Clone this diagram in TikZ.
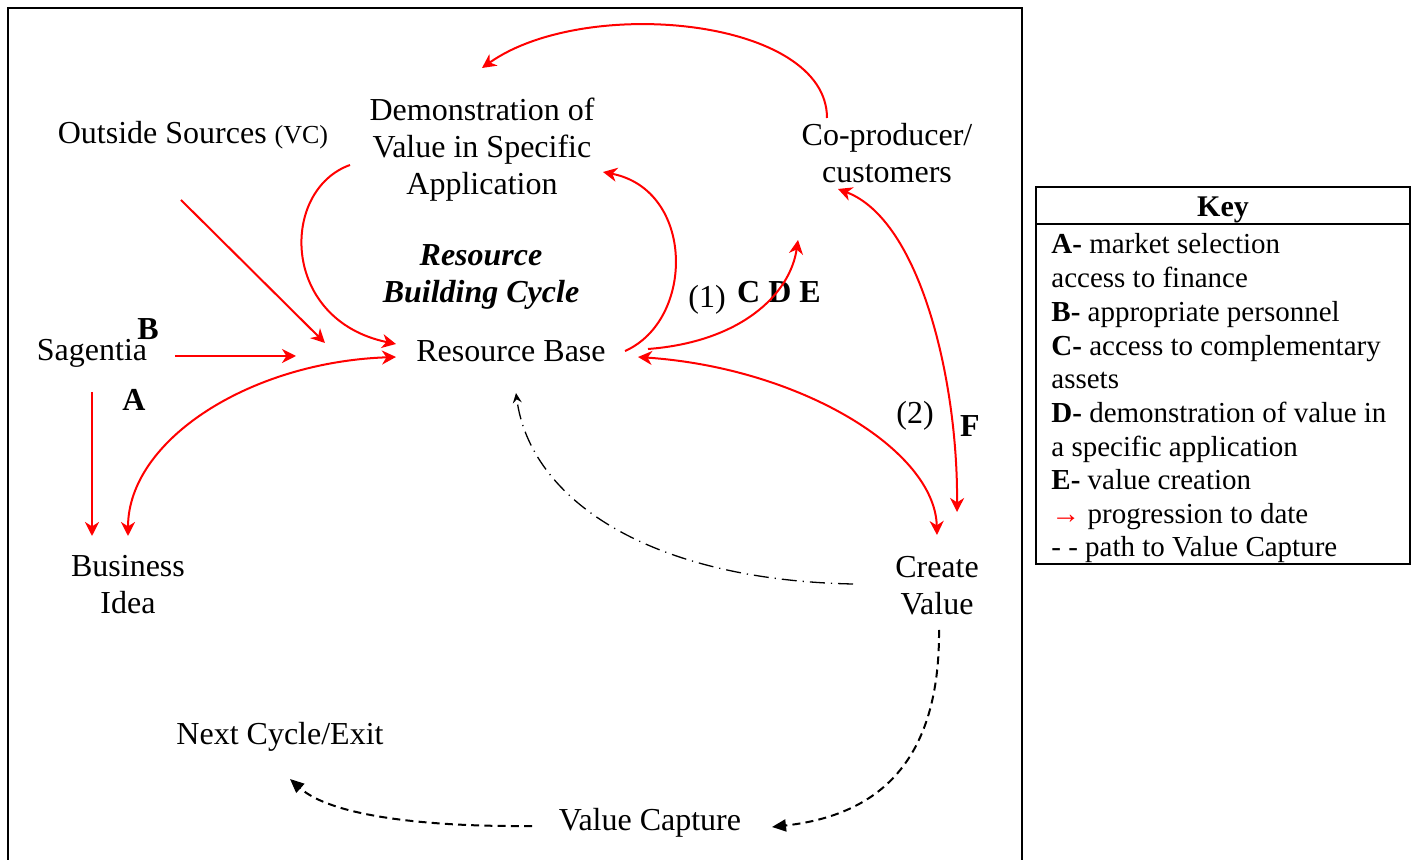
\documentclass[tikz,border=0pt]{standalone}
\usepackage{fontspec}
\setmainfont{Liberation Serif}
\usetikzlibrary{arrows.meta}
\begin{document}
\begin{tikzpicture}[x=0.5pt,y=-0.5pt,
  lbl/.style={font=\fontsize{16}{18.5}\selectfont, align=center, inner sep=0pt},
  bl/.style={font=\fontsize{16}{18.5}\selectfont\bfseries, inner sep=0pt},
  keyline/.style={font=\fontsize{14.5}{16.85}\selectfont, anchor=base west, inner sep=0pt},
  redarr/.style={draw=red, line width=1pt, -{Stealth[length=7pt,width=7pt,inset=2.2pt]}},
  redboth/.style={draw=red, line width=1pt, {Stealth[length=7pt,width=7pt,inset=2.2pt]}-{Stealth[length=7pt,width=7pt,inset=2.2pt]}},
  blkdash/.style={draw=black, line width=1pt, dash pattern=on 4pt off 2.6pt, -{Triangle[length=7pt,width=6pt]}},
  blkdashdot/.style={draw=black, line width=0.65pt, dash pattern=on 7.5pt off 3pt on 0.6pt off 3pt, -{Stealth[length=5pt,width=4.5pt,inset=1.8pt]}}
]
\useasboundingbox (0,0) rectangle (1414,860);
% frames
\draw[line width=1pt] (8,862) -- (8,8) -- (1022,8) -- (1022,862);
\draw[line width=1pt] (1036,187) rectangle (1410,564);
\draw[line width=1pt] (1036,224) -- (1410,224);

% nodes
\node[lbl] (outside) at (193,135) {Outside Sources {\fontsize{13}{15}\selectfont(VC)}};
\node[lbl] (demo) at (482,150) {Demonstration of\\Value in Specific\\Application};
\node[lbl] (coprod) at (887,153) {Co-producer/\\customers};
\node[lbl, font=\fontsize{16}{18.5}\selectfont\bfseries\itshape] (cycle) at (481,277) {Resource\\Building Cycle};
\node[lbl] (sag) at (92,353) {Sagentia};
\node[bl] (B) at (148,329) {B};
\node[bl] (A) at (134,400) {A};
\node[lbl] (rb) at (511,351) {Resource Base};
\node[lbl] (one) at (707,300) {(1)};
\node[bl] (cde) at (779,292) {C D E};
\node[lbl] (two) at (915,416) {(2)};
\node[bl] (F) at (970,426) {F};
\node[lbl] (bi) at (128,585) {Business\\Idea};
\node[lbl] (cv) at (937,586) {Create\\Value};
\node[lbl] (next) at (280,737) {Next Cycle/Exit};
\node[lbl] (vcap) at (650,823) {Value Capture};

% key
\node[font=\fontsize{15}{18}\selectfont\bfseries, inner sep=0pt, anchor=base] (keytitle) at (1223,217) {Key};
\node[keyline] (k1) at (1051,254) {\textbf{A-} market selection};
\node[keyline] (k2) at (1051,287.7) {access to finance};
\node[keyline] (k3) at (1051,321.4) {\textbf{B-} appropriate personnel};
\node[keyline] (k4) at (1051,355.1) {\textbf{C-} access to complementary};
\node[keyline] (k5) at (1051,388.8) {assets};
\node[keyline] (k6) at (1051,422.5) {\textbf{D-} demonstration of value in};
\node[keyline] (k7) at (1051,456.2) {a specific application};
\node[keyline] (k8) at (1051,489.9) {\textbf{E-} value creation};
\node[keyline] (k9) at (1051,523.6) {{\color{red}→} progression to date};
\node[keyline] (k10) at (1051,556.5) {- - path to Value Capture};

% connector end points
\coordinate (co-top) at (827,118);
\coordinate (demo-top) at (482,68);
\coordinate (demo-l) at (350,165);
\coordinate (rb-w1) at (396,344);
\coordinate (rb-w2) at (396,357);
\coordinate (out-s) at (181,200);
\coordinate (out-e) at (325,343);
\coordinate (sag-e) at (175,356);
\coordinate (sag-to) at (296,356);
\coordinate (sag-s) at (92,392);
\coordinate (bi-n1) at (92,536);
\coordinate (bi-n2) at (128,536);
\coordinate (rb-e1) at (625,351);
\coordinate (demo-r) at (603,172);
\coordinate (rb-e2) at (648,349);
\coordinate (cde-to) at (798,240);
\coordinate (rb-e3) at (638,357);
\coordinate (cv-n1) at (937,535);
\coordinate (co-s) at (838,189);
\coordinate (cv-n2) at (957,512);
\coordinate (cv-w) at (853,584);
\coordinate (rb-s) at (516,393);
\coordinate (cv-s) at (939,630);
\coordinate (vcap-e) at (772,827);
\coordinate (vcap-w) at (532,826);
\coordinate (next-s) at (290,779);

% red connectors
\draw[redarr] (co-top) .. controls (827,18) and (585,-5) .. (demo-top);
\draw[redarr] (demo-l) .. controls (280,190) and (280,320) .. (rb-w1);
\draw[redarr] (out-s) -- (out-e);
\draw[redarr] (sag-e) -- (sag-to);
\draw[redarr] (sag-s) -- (bi-n1);
\draw[redboth] (rb-w2) .. controls (250,362) and (128,440) .. (bi-n2);
\draw[redarr] (rb-e1) .. controls (695,320) and (695,190) .. (demo-r);
\draw[redarr] (rb-e2) .. controls (740,342) and (790,295) .. (cde-to);
\draw[redboth] (rb-e3) .. controls (800,368) and (935,450) .. (cv-n1);
\draw[redboth] (co-s) .. controls (920,220) and (958,380) .. (cv-n2);

% black connectors
\draw[blkdashdot] (cv-w) .. controls (650,580) and (530,500) .. (rb-s);
\draw[blkdash] (cv-s) .. controls (940,760) and (880,815) .. (vcap-e);
\draw[blkdash] (vcap-w) .. controls (420,827) and (330,815) .. (next-s);
\end{tikzpicture}
\end{document}
